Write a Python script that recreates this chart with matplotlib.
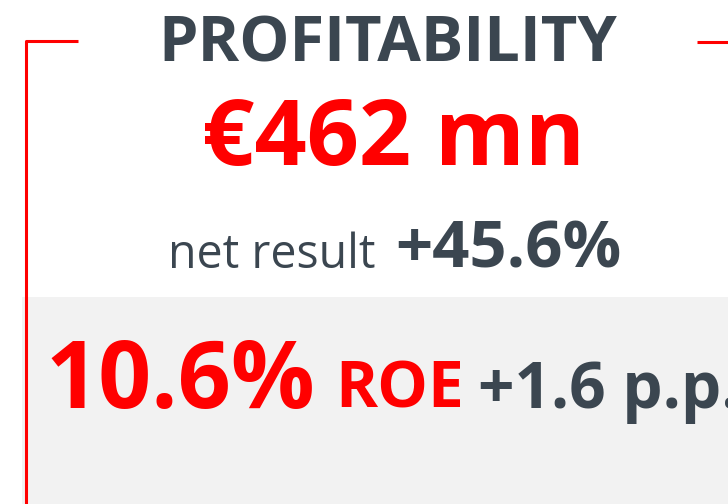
import matplotlib.pyplot as plt
from matplotlib.patches import Rectangle

title = 'PROFITABILITY'
net_value = '€462 mn'
net_label = 'net result'
net_change = '+45.6%'
roe_value = '10.6%'
roe_label = 'ROE'
roe_change = '+1.6 p.p.'

red = '#FF0000'
grey = '#3B4650'
plt.rcParams['font.family'] = ['Open Sans', 'DejaVu Sans']

fig = plt.figure(figsize=(7.28, 5.04), dpi=100)
ax = fig.add_axes([0, 0, 1, 1])
ax.set_xlim(0, 728)
ax.set_ylim(504, 0)
ax.axis('off')

# grey band at the bottom
ax.add_patch(Rectangle((22, 297), 720, 220, color='#F2F2F2', lw=0, zorder=0))

# red bracket lines
ax.plot([26, 26, 78], [504, 41, 41], color=red, lw=2.2, solid_capstyle='butt')
ax.plot([697, 728], [42, 42], color=red, lw=2.2, solid_capstyle='butt')

ax.text(388, 62, title, ha='center', va='baseline', fontsize=45.5,
        fontweight='bold', color=grey)
ax.text(393, 165, net_value, ha='center', va='baseline', fontsize=66,
        fontweight='bold', color=red)
ax.text(375, 268, net_label, ha='right', va='baseline', fontsize=33.5, color=grey)
ax.text(395, 268, net_change, ha='left', va='baseline', fontsize=47,
        fontweight='bold', color=grey)

ax.text(45, 408, roe_value, ha='left', va='baseline', fontsize=67,
        fontweight='bold', color=red)
ax.text(335, 408, roe_label, ha='left', va='baseline', fontsize=46,
        fontweight='bold', color=red)
ax.text(478, 408, roe_change, ha='left', va='baseline', fontsize=46,
        fontweight='bold', color=grey)

fig.savefig('out.png', dpi=100)
